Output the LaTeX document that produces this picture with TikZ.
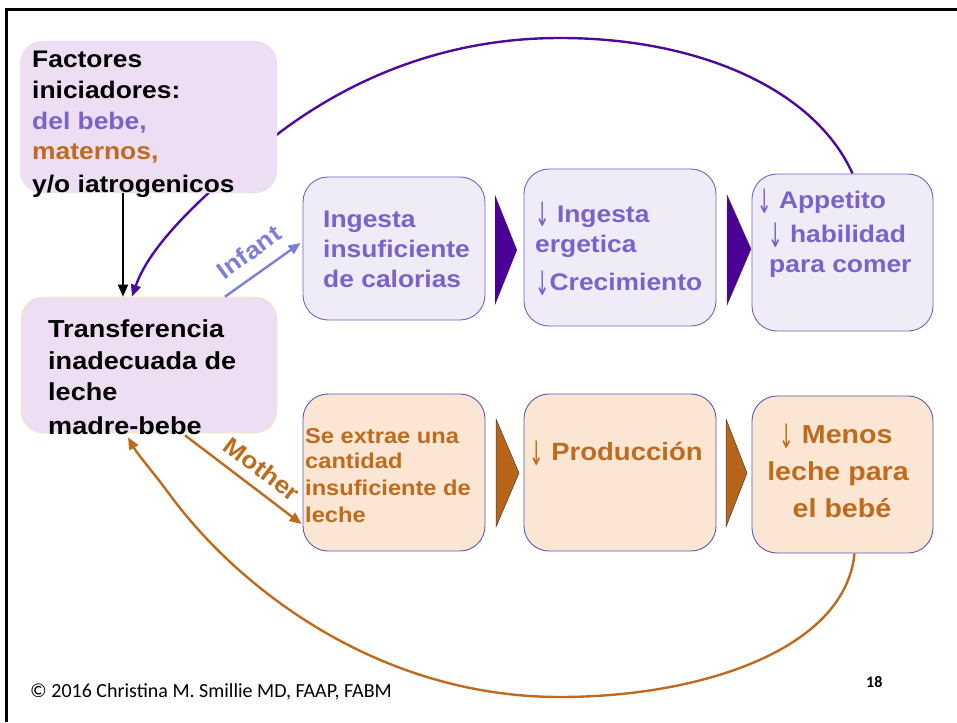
\documentclass[tikz,border=0pt]{standalone}
\usepackage{graphicx}
\usepackage{fontspec}
\setmainfont[FakeStretch=1.1]{Liberation Sans}
\newfontfamily\footfont{Carlito}
\newfontfamily\arrowfont{DejaVu Sans}
\usetikzlibrary{arrows.meta}
\pgfdeclarelayer{bg}
\pgfsetlayers{bg,main}
\definecolor{lav}{HTML}{EEDEF3}
\definecolor{topfill}{HTML}{EFECF8}
\definecolor{topdraw}{HTML}{6B66BE}
\definecolor{botfill}{HTML}{FBE6D3}
\definecolor{botdraw}{HTML}{5B57B5}
\definecolor{ptext}{HTML}{7B62CB}
\definecolor{otext}{HTML}{BE6B1F}
\definecolor{indigoc}{HTML}{4E0A99}
\definecolor{chevp}{HTML}{4B0096}
\definecolor{infantc}{HTML}{7B7FD6}
\definecolor{chevo}{HTML}{B8651A}
\definecolor{tyel}{HTML}{F3EDB0}
\newcommand\fsz[1]{\fontsize{#1}{#1}\selectfont}
\newcommand\dn{\raisebox{-5pt}{\scalebox{0.72}[1.4]{\arrowfont\mdseries\fontsize{24}{24}\selectfont ↓}}}
\begin{document}
\begin{tikzpicture}[x=1pt,y=-1pt,
  lavbox/.style={rounded corners=22pt, fill=lav, inner sep=0},
  topbox/.style={rounded corners=25pt, fill=topfill, draw=topdraw, line width=0.9pt, inner sep=0},
  botbox/.style={rounded corners=25pt, fill=botfill, draw=botdraw, line width=0.9pt, inner sep=0},
  ln/.style={anchor=base west, inner sep=0, font=\bfseries},
  tip/.style={-{Triangle[length=12pt,width=10pt]}},
  chevron/.style={draw=black!75, line width=0.5pt}
]
\useasboundingbox (0,0) rectangle (957,722);
% frame
\draw[line width=3pt] (5,10) -- (957,10);
\draw[line width=3pt] (6,9) -- (6,722);

% boxes
\node[lavbox, minimum width=257pt, minimum height=152pt] (fac) at (148.5,117) {};
\node[lavbox, minimum width=256pt, minimum height=136pt, draw=tyel, line width=0.6pt] (tr) at (149,365) {};
\node[topbox, minimum width=182pt, minimum height=143pt] (b1) at (394,248.5) {};
\node[topbox, minimum width=192pt, minimum height=157pt] (b2) at (620,247.5) {};
\node[topbox, minimum width=181pt, minimum height=157pt] (b3) at (842.5,252.5) {};
\node[botbox, minimum width=182pt, minimum height=157pt] (c1) at (394,472.5) {};
\node[botbox, minimum width=192pt, minimum height=157pt] (c2) at (620,472.5) {};
\node[botbox, minimum width=181pt, minimum height=157pt] (c3) at (842.5,474.5) {};

% chevrons
\fill[chevp] (495,195) -- (517,250) -- (495,305) -- cycle;
\filldraw[chevp, chevron] (727,195) -- (751,249) -- (727,305) -- cycle;
\filldraw[chevo, chevron] (496,419) -- (519,473) -- (496,527) -- cycle;
\filldraw[chevo, chevron] (726,419) -- (747,473) -- (726,527) -- cycle;

% feedback curves (behind boxes)
\begin{pgfonlayer}{bg}
\draw[indigoc, line width=2.4pt, tip]
  ([xshift=10pt]b3.north) .. controls (815,90) and (700,38) .. (560,38)
  .. controls (430,38) and (330,90) .. (260,148)
  .. controls (200,198) and (150,245) .. ([xshift=-17pt]tr.north);
\draw[otext, line width=2.4pt, tip]
  ([xshift=12pt]c3.south) .. controls (845,650) and (700,697) .. (560,697)
  .. controls (380,697) and (240,590) .. (170,495)
  .. controls (150,468) and (138,455) .. ([xshift=-21pt,yshift=-4pt]tr.south);
\end{pgfonlayer}

% straight arrows
\draw[black, line width=1.8pt, tip] ([xshift=-25.5pt]fac.south) -- ([xshift=-26pt]tr.north);
\draw[infantc, line width=2.4pt, tip] ([xshift=76pt]tr.north) -- ([xshift=-2pt,yshift=5.5pt]b1.west);
\draw[otext, line width=2.4pt, tip] ([xshift=36pt,yshift=-2pt]tr.south) -- ([xshift=-1pt,yshift=-51.5pt]c1.west);

% arrow labels
\node[inner sep=0, rotate=36, font=\bfseries\fsz{24}, text=infantc] (linf) at (249,252) {Infant};
\node[inner sep=0, rotate=-37, font=\bfseries\fsz{24}, text=otext] (lmot) at (262,469) {Mother};

% factores text
\node[ln, font=\bfseries\fsz{24}] (f1) at (32,68) {Factores};
\node[ln, font=\bfseries\fsz{24}] (f2) at (32,99) {iniciadores:};
\node[ln, font=\bfseries\fsz{24}, text=ptext] (f3) at (32,130) {del bebe,};
\node[ln, font=\bfseries\fsz{24}, text=otext] (f4) at (32,160) {maternos,};
\node[ln, font=\bfseries\fsz{24}] (f5) at (32,192) {y/o iatrogenicos};

% transferencia text
\node[ln, font=\bfseries\fsz{24.6}] (t1) at (48,337) {Transferencia};
\node[ln, font=\bfseries\fsz{24.6}] (t2) at (48,369) {inadecuada de};
\node[ln, font=\bfseries\fsz{24.6}] (t3) at (48,400) {leche};
\node[ln, font=\bfseries\fsz{24.6}] (t4) at (48,434) {madre-bebe};

% top row text
\node[ln, font=\bfseries\fsz{24}, text=ptext] (b1a) at (323,227) {Ingesta};
\node[ln, font=\bfseries\fsz{24}, text=ptext] (b1b) at (323,257) {insuficiente};
\node[ln, font=\bfseries\fsz{24}, text=ptext] (b1c) at (323,287) {de calorias};
\node[ln, font=\bfseries\fsz{24}, text=ptext] (b2a) at (535,222) {\dn\ Ingesta};
\node[ln, font=\bfseries\fsz{24}, text=ptext] (b2b) at (535,252) {ergetica};
\node[ln, font=\bfseries\fsz{24}, text=ptext] (b2c) at (535,290) {\dn Crecimiento};
\node[ln, font=\bfseries\fsz{24}, text=ptext] (b3a) at (757,208) {\dn\ Appetito};
\node[ln, font=\bfseries\fsz{24}, text=ptext] (b3b) at (768,242) {\dn\ habilidad};
\node[ln, font=\bfseries\fsz{24}, text=ptext] (b3c) at (769,272) {para comer};

% bottom row text
\node[ln, font=\bfseries\fsz{21.5}, text=otext] (c1a) at (305,443) {Se extrae una};
\node[ln, font=\bfseries\fsz{21.5}, text=otext] (c1b) at (305,468) {cantidad};
\node[ln, font=\bfseries\fsz{21.5}, text=otext] (c1c) at (305,495) {insuficiente de};
\node[ln, font=\bfseries\fsz{21.5}, text=otext] (c1d) at (305,522) {leche};
\node[ln, font=\bfseries\fsz{25}, text=otext] (c2a) at (529,460) {\dn\ Producción};
\node[anchor=base, inner sep=0, font=\bfseries\fsz{26}, text=otext] (c3a) at (836,443) {\dn\ Menos};
\node[anchor=base, inner sep=0, font=\bfseries\fsz{26}, text=otext] (c3b) at (838,480) {leche para};
\node[anchor=base, inner sep=0, font=\bfseries\fsz{26}, text=otext] (c3c) at (842,517) {el bebé};

% footer
\node[anchor=base west, inner sep=0, font=\footfont\fsz{20}] (foot) at (30,697) {© 2016 Christina M. Smillie MD, FAAP, FABM};
\node[anchor=base west, inner sep=0, font=\footfont\bfseries\fsz{16}] (pg) at (866,687) {18};
\end{tikzpicture}
\end{document}
